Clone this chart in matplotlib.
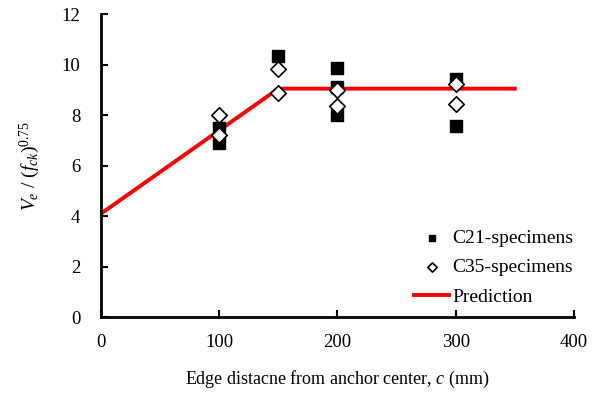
import matplotlib
matplotlib.use("Agg")
import matplotlib.pyplot as plt
import numpy as np

plt.rcParams['font.family'] = ['Liberation Serif', 'DejaVu Serif']
plt.rcParams['mathtext.fontset'] = 'custom'
plt.rcParams['mathtext.rm'] = 'Liberation Serif'
plt.rcParams['mathtext.it'] = 'Liberation Serif:italic'

c21_x = [100, 100, 150, 200, 200, 200, 300, 300]
c21_y = [7.5, 6.9, 10.33, 9.87, 9.12, 8.0, 9.45, 7.57]
c35_x = [100, 100, 150, 150, 200, 200, 300, 300]
c35_y = [8.0, 7.23, 9.84, 8.89, 9.01, 8.35, 9.22, 8.43]
pred_x = [0, 150, 350]
pred_y = [4.1, 9.05, 9.05]

fig = plt.figure(figsize=(6.01, 3.94), dpi=100)
ax = fig.add_axes([0.168, 0.195, 0.787, 0.769])

ax.scatter(c21_x, c21_y, marker='s', s=65, color='black', label='C21-specimens', zorder=3)
ax.scatter(c35_x, c35_y, marker='D', s=62, facecolor='white', edgecolor='black', linewidth=1.2,
           label='C35-specimens', zorder=4)
ax.plot(pred_x, pred_y, color='red', lw=2.8, label='Prediction', zorder=2)

ax.set_xlim(0, 400)
ax.set_ylim(0, 12)
ax.set_xticks([0, 100, 200, 300, 400])
ax.set_yticks([0, 2, 4, 6, 8, 10, 12])
for s in ['top', 'right']:
    ax.spines[s].set_visible(False)
for s in ['left', 'bottom']:
    ax.spines[s].set_linewidth(2)
ax.tick_params(direction='in', width=1.5, length=5, labelsize=13.5)
ax.tick_params(axis='x', pad=12)
ax.tick_params(axis='y', pad=15)

ax.set_xlabel('Edge distacne from anchor center, $\\mathit{c}$ (mm)', fontsize=13, labelpad=13)
ax.set_ylabel('$\\mathit{V_e}$ / ($\\mathit{f_{ck}}$)$^{0.75}$', fontsize=14, labelpad=14)

leg = ax.legend(loc='lower right', bbox_to_anchor=(1.035, -0.02), frameon=False, fontsize=14,
                handlelength=1.8, handletextpad=0.15, labelspacing=0.6, markerscale=0.6)

fig.savefig('out.png', dpi=100)
